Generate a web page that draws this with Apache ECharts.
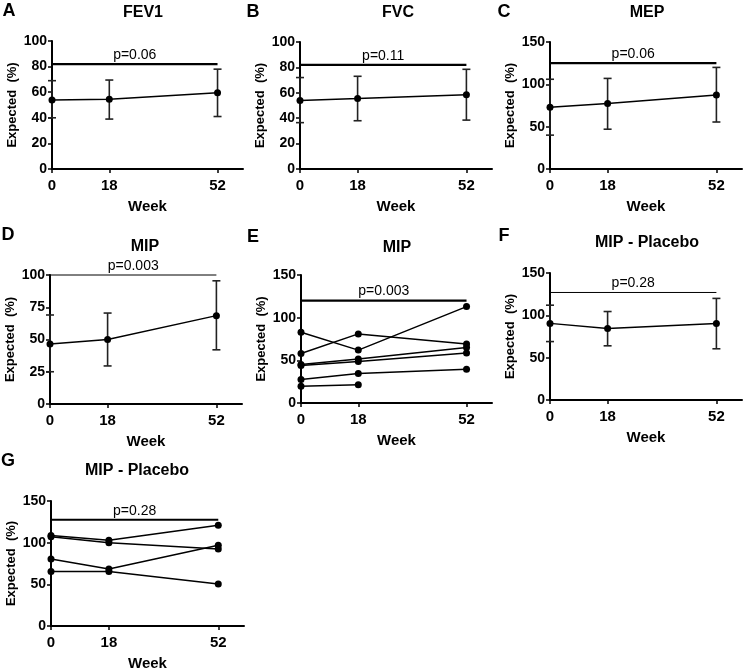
<!DOCTYPE html>
<html><head><meta charset="utf-8">
<script src="https://cdn.jsdelivr.net/npm/echarts@6/dist/echarts.min.js"></script>
<style>html,body{margin:0;padding:0;background:#fff}#c{width:744px;height:672px}</style>
</head><body><div id="c"></div>
<script>
// ---- data ----
const weeks = [0, 18, 52];
const tickWeeks = [0, 18, 52];

const fev1Mean = [54, 54.5, 59.5];
const fev1Low  = [40, 39, 41];
const fev1High = [69, 69.5, 78];

const fvcMean = [54, 55.5, 58.5];
const fvcLow  = [36.5, 38, 38.5];
const fvcHigh = [72, 73, 78.5];

const mepMean = [73, 77.5, 87.5];
const mepLow  = [40, 47, 55.5];
const mepHigh = [106, 107, 120];

const mipMean = [46.5, 50, 68.5];
const mipLow  = [25, 29.5, 42];
const mipHigh = [69, 70.5, 95.5];

const mipSubjects = [
  [83, 62, 113],
  [58, 81, 69],
  [45, 51.5, 65],
  [44, 48.5, 58.5],
  [27.5, 34.5, 39.5],
  [19.5, 21.5, null]
];

const placeboMean = [90.5, 84.5, 90.5];
const placeboLow  = [69, 64, 60.5];
const placeboHigh = [112, 104.5, 120];

const placeboSubjects = [
  [108.5, 103, 121],
  [107, 100, 92.5],
  [80.5, 68.5, 97],
  [65.5, 65.5, 50.5]
];

const panelLetters = ['A','B','C','D','E','F','G'];
const panelTitles = ['FEV1','FVC','MEP','MIP','MIP','MIP - Placebo','MIP - Placebo'];
const pTexts = ['p=0.06','p=0.11','p=0.06','p=0.003','p=0.003','p=0.28','p=0.28'];
const pLevels = [82, 82, 125, 100, 120, 127, 127.5];
const yMaxes = [100, 100, 150, 100, 150, 150, 150];
const yIntervals = [20, 20, 50, 25, 50, 50, 50];

// ---- layout ----
const FONT = 'Liberation Sans, Arial, Helvetica, sans-serif';
const layout = [
  {left:52,  top:41,  width:191, height:128, letter:[9,11],   title:[143,13],  pW:2.2},
  {left:300, top:42,  width:192, height:127, letter:[253,12], title:[398,13],  pW:2.2},
  {left:550, top:42,  width:192, height:127, letter:[504,12], title:[647,13],  pW:2.2},
  {left:50,  top:275, width:192, height:129, letter:[8,235],  title:[145,247], pW:1},
  {left:301, top:275, width:191, height:128, letter:[253,237],title:[397,248], pW:2.2},
  {left:550, top:273, width:192, height:127, letter:[504,236],title:[647,243], pW:1},
  {left:51,  top:501, width:193, height:128, letter:[8,461],  title:[137,471], pW:2.2}
];

function errRender(params, api){
  const x = api.value(0), lo = api.value(1), hi = api.value(2);
  const a = api.coord([x, lo]), b = api.coord([x, hi]);
  const w = 4;
  const st = {stroke:'#222', lineWidth:1.6};
  return {type:'group', children:[
    {type:'line', shape:{x1:a[0],y1:a[1],x2:b[0],y2:b[1]}, style:st},
    {type:'line', shape:{x1:a[0]-w,y1:a[1],x2:a[0]+w,y2:a[1]}, style:st},
    {type:'line', shape:{x1:b[0]-w,y1:b[1],x2:b[0]+w,y2:b[1]}, style:st}
  ]};
}

function pRender(text, lw){
  return function(params, api){
    const a = api.coord([api.value(0), api.value(2)]);
    const b = api.coord([api.value(1), api.value(2)]);
    return {type:'group', children:[
      {type:'line', shape:{x1:a[0],y1:a[1],x2:b[0],y2:b[1]}, style:{stroke:'#000', lineWidth:lw}},
      {type:'text', style:{text:text, x:(a[0]+b[0])/2, y:a[1]-2, textAlign:'center', textVerticalAlign:'bottom',
        font:'14px ' + FONT, fill:'#000'}}
    ]};
  };
}

const grids = [], xAxes = [], yAxes = [], series = [], graphics = [];

layout.forEach((L, i) => {
  grids.push({left:L.left, top:L.top, width:L.width, height:L.height, containLabel:false});
  xAxes.push({
    type:'value', gridIndex:i, min:0, max:60,
    name:'Week', nameLocation:'middle', nameGap:30,
    nameTextStyle:{fontFamily:FONT, fontWeight:'bold', fontSize:15, color:'#000'},
    axisLine:{lineStyle:{color:'#000', width:2}},
    axisTick:{show:true, length:4, customValues:tickWeeks, lineStyle:{color:'#000', width:1.5}},
    axisLabel:{customValues:tickWeeks, fontFamily:FONT, fontWeight:'bold', fontSize:15, color:'#000', margin:9},
    splitLine:{show:false}
  });
  yAxes.push({
    type:'value', gridIndex:i, min:0, max:yMaxes[i], interval:yIntervals[i],
    name:'Expected  (%)', nameLocation:'middle', nameGap:33,
    nameTextStyle:{fontFamily:FONT, fontWeight:'bold', fontSize:13, color:'#000'},
    axisLine:{show:true, lineStyle:{color:'#000', width:2}},
    axisTick:{show:true, length:4, lineStyle:{color:'#000', width:1.5}},
    axisLabel:{fontFamily:FONT, fontWeight:'bold', fontSize:14, color:'#000', margin:5},
    splitLine:{show:false}
  });
  series.push({
    type:'custom', xAxisIndex:i, yAxisIndex:i, clip:false, silent:true,
    renderItem:pRender(pTexts[i], L.pW),
    data:[[0, 52, pLevels[i]]]
  });
  graphics.push({type:'text', x:L.letter[0], y:L.letter[1],
    style:{text:panelLetters[i], font:'bold 18px ' + FONT, fill:'#000', textAlign:'center', textVerticalAlign:'middle'}});
  graphics.push({type:'text', x:L.title[0], y:L.title[1],
    style:{text:panelTitles[i], font:'bold 16px ' + FONT, fill:'#000', textAlign:'center', textVerticalAlign:'middle'}});
});

function addMean(i, mean, low, high){
  series.push({
    type:'custom', xAxisIndex:i, yAxisIndex:i, clip:false, silent:true,
    renderItem:errRender, encode:{x:0, y:[1,2]},
    data:weeks.map((w, k) => [w, low[k], high[k]])
  });
  series.push({
    type:'line', xAxisIndex:i, yAxisIndex:i, clip:false, silent:true,
    symbol:'circle', symbolSize:7,
    lineStyle:{color:'#000', width:1.5}, itemStyle:{color:'#000'},
    data:weeks.map((w, k) => [w, mean[k]])
  });
}
function addSubjects(i, subjects){
  subjects.forEach(s => {
    series.push({
      type:'line', xAxisIndex:i, yAxisIndex:i, clip:false, silent:true,
      symbol:'circle', symbolSize:7,
      lineStyle:{color:'#000', width:1.5}, itemStyle:{color:'#000'},
      data:weeks.map((w, k) => [w, s[k]]).filter(p => p[1] !== null)
    });
  });
}

addMean(0, fev1Mean, fev1Low, fev1High);
addMean(1, fvcMean, fvcLow, fvcHigh);
addMean(2, mepMean, mepLow, mepHigh);
addMean(3, mipMean, mipLow, mipHigh);
addSubjects(4, mipSubjects);
addMean(5, placeboMean, placeboLow, placeboHigh);
addSubjects(6, placeboSubjects);

const chart = echarts.init(document.getElementById('c'), null, {renderer:'canvas'});
chart.setOption({
  animation:false,
  backgroundColor:'#fff',
  grid:grids, xAxis:xAxes, yAxis:yAxes, series:series, graphic:graphics
});
</script>
</body></html>
